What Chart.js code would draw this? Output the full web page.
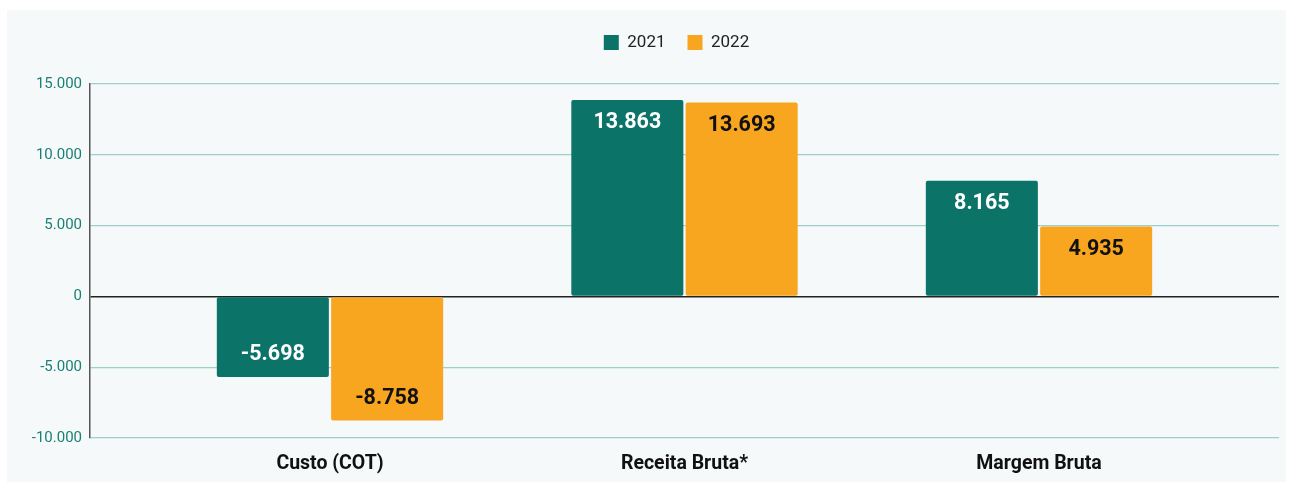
<!DOCTYPE html>
<html>
<head>
<meta charset="utf-8">
<script src="https://cdn.jsdelivr.net/npm/chart.js@4"></script>
<style>
  html, body { margin: 0; padding: 0; background: #ffffff; }
  .panel {
    position: absolute;
    left: 7px;
    top: 10px;
    width: 1279px;
    height: 472px;
    background: #f5f9fa;
  }
</style>
</head>
<body>
<div class="panel">
  <canvas id="chart" width="1279" height="472"></canvas>
</div>
<script>
const categories = ["Custo (COT)", "Receita Bruta*", "Margem Bruta"];
const series2021 = [-5698, 13863, 8165];
const series2022 = [-8758, 13693, 4935];
const seriesNames = ["2021", "2022"];

const TEAL = "#0b7368";
const ORANGE = "#f8a61f";

const fmt = (v) => {
  const s = Math.abs(v).toString().replace(/\B(?=(\d{3})+(?!\d))/g, ".");
  return (v < 0 ? "-" : "") + s;
};

// extra room under the legend
const legendGap = {
  id: "legendGap",
  beforeInit(chart) {
    const fit = chart.legend.fit;
    chart.legend.fit = function () {
      fit.bind(chart.legend)();
      this.height += 23;
    };
  },
};

// categories sit closer together than an even split of the plot width,
// and the legend is centred over the plot area
const layoutTweaks = {
  id: "layoutTweaks",
  afterLayout(chart) {
    const x = chart.scales.x;
    const side = 0.177;
    x._startValue = -0.5 - side;
    x._valueRange = categories.length + 2 * side;
    chart.legend.left = chart.chartArea.left - 8;
    chart.legend.right = chart.chartArea.right - 8;
  },
};

const barLabels = {
  id: "barLabels",
  afterDatasetsDraw(chart) {
    const ctx = chart.ctx;
    ctx.save();
    ctx.font = "bold 21.5px Roboto";
    ctx.textAlign = "center";
    ctx.textBaseline = "middle";
    chart.data.datasets.forEach((ds, i) => {
      const meta = chart.getDatasetMeta(i);
      meta.data.forEach((bar, j) => {
        const v = ds.data[j];
        const y = v >= 0 ? bar.y + 23 : bar.y - 22;
        ctx.fillStyle = i === 0 ? "#ffffff" : "#111111";
        ctx.fillText(fmt(v), bar.x, y);
      });
    });
    ctx.restore();
  },
};

new Chart(document.getElementById("chart"), {
  type: "bar",
  data: {
    labels: categories,
    datasets: [
      {
        label: seriesNames[0],
        data: series2021,
        backgroundColor: TEAL,
      },
      {
        label: seriesNames[1],
        data: series2022,
        backgroundColor: ORANGE,
      },
    ],
  },
  plugins: [legendGap, layoutTweaks, barLabels],
  options: {
    responsive: false,
    animation: false,
    categoryPercentage: 0.645,
    barPercentage: 0.98,
    borderRadius: 2,
    borderSkipped: false,
    layout: {
      padding: { left: 0, right: 7, top: 2, bottom: 0 },
    },
    plugins: {
      legend: {
        labels: {
          boxWidth: 15,
          boxHeight: 15,
          color: "#222222",
          font: { family: "Roboto", size: 17 },
          padding: 22,
        },
      },
      tooltip: { enabled: false },
    },
    scales: {
      x: {
        afterFit: (scale) => {
          scale.height = 44;
        },
        border: { display: false },
        grid: { display: false },
        ticks: {
          color: "#111111",
          padding: 6,
          font: { family: "Roboto", size: 19.5, weight: "bold" },
        },
      },
      y: {
        min: -10000,
        max: 15000,
        afterFit: (scale) => {
          scale.width = 83;
        },
        border: { display: true, color: "#555555", width: 1.5 },
        grid: {
          drawTicks: false,
          color: (c) => (c.tick && c.tick.value === 0 ? "#222222" : "#9dd0c9"),
          lineWidth: (c) => (c.tick && c.tick.value === 0 ? 1.5 : 1.2),
        },
        ticks: {
          stepSize: 5000,
          padding: 8,
          color: "#1a7f74",
          font: { family: "Roboto", size: 15 },
          callback: (v) => fmt(v),
        },
      },
    },
  },
});
</script>
</body>
</html>
